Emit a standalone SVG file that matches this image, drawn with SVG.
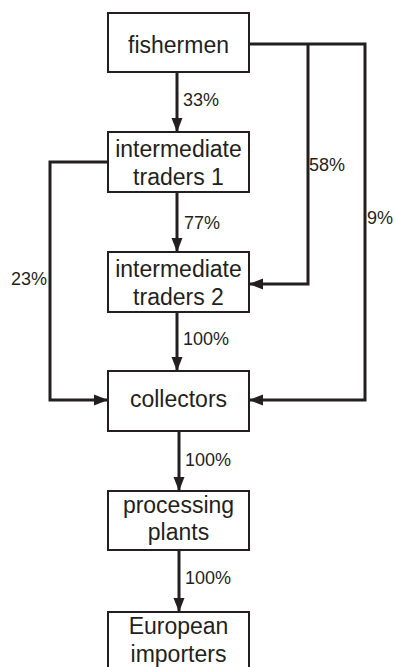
<svg xmlns="http://www.w3.org/2000/svg" width="396" height="667" viewBox="0 0 396 667">
<style>
.box{fill:#fff;stroke:#231f20;stroke-width:2}
.t{font-family:"Liberation Sans",Arial,sans-serif;font-size:23px;fill:#231f20;text-anchor:middle}
.l{font-family:"Liberation Sans",Arial,sans-serif;font-size:18px;fill:#231f20}
.c{fill:none;stroke:#231f20;stroke-width:3}
</style>
<defs>
<marker id="ah" markerUnits="userSpaceOnUse" markerWidth="14" markerHeight="14" viewBox="0 0 14 14" refX="14" refY="7" orient="auto">
<path d="M0,1.5 L14,7 L0,12.5 Z" fill="#231f20"/>
</marker>
</defs>
<rect width="396" height="667" fill="#fff"/>
<g id="connectors">
<path class="c" d="M177,72 V132" marker-end="url(#ah)"/>
<path class="c" d="M177,192 V252" marker-end="url(#ah)"/>
<path class="c" d="M177,312 V371" marker-end="url(#ah)"/>
<path class="c" d="M179,431 V491" marker-end="url(#ah)"/>
<path class="c" d="M179,550 V612" marker-end="url(#ah)"/>
<path class="c" d="M249,44 H365 V400 H249" marker-end="url(#ah)"/>
<path class="c" d="M308,44 V284 H249" marker-end="url(#ah)"/>
<path class="c" d="M108,162 H50 V400 H108" marker-end="url(#ah)"/>
<text class="l" x="183" y="105.5">33%</text>
<text class="l" x="309" y="171">58%</text>
<text class="l" x="367" y="223.5">9%</text>
<text class="l" x="184" y="228.5">77%</text>
<text class="l" x="11" y="284.5">23%</text>
<text class="l" x="183" y="344.5">100%</text>
<text class="l" x="185" y="465.5">100%</text>
<text class="l" x="185" y="583.5">100%</text>
</g>
<g id="fishermen">
<rect class="box" x="108" y="13" width="141" height="59"/>
<text class="t" x="178.5" y="52.5">fishermen</text>
</g>
<g id="traders1">
<rect class="box" x="108" y="132" width="141" height="60"/>
<text class="t" x="178.5" y="157">intermediate</text>
<text class="t" x="178.5" y="185">traders 1</text>
</g>
<g id="traders2">
<rect class="box" x="108" y="252" width="141" height="60"/>
<text class="t" x="178.5" y="277">intermediate</text>
<text class="t" x="178.5" y="305">traders 2</text>
</g>
<g id="collectors">
<rect class="box" x="108" y="371" width="141" height="60"/>
<text class="t" x="178.5" y="407">collectors</text>
</g>
<g id="processing">
<rect class="box" x="108" y="491" width="141" height="59"/>
<text class="t" x="178.5" y="513">processing</text>
<text class="t" x="178.5" y="540">plants</text>
</g>
<g id="importers">
<rect class="box" x="108" y="612" width="141" height="60"/>
<text class="t" x="178.5" y="634">European</text>
<text class="t" x="178.5" y="662">importers</text>
</g>
</svg>
